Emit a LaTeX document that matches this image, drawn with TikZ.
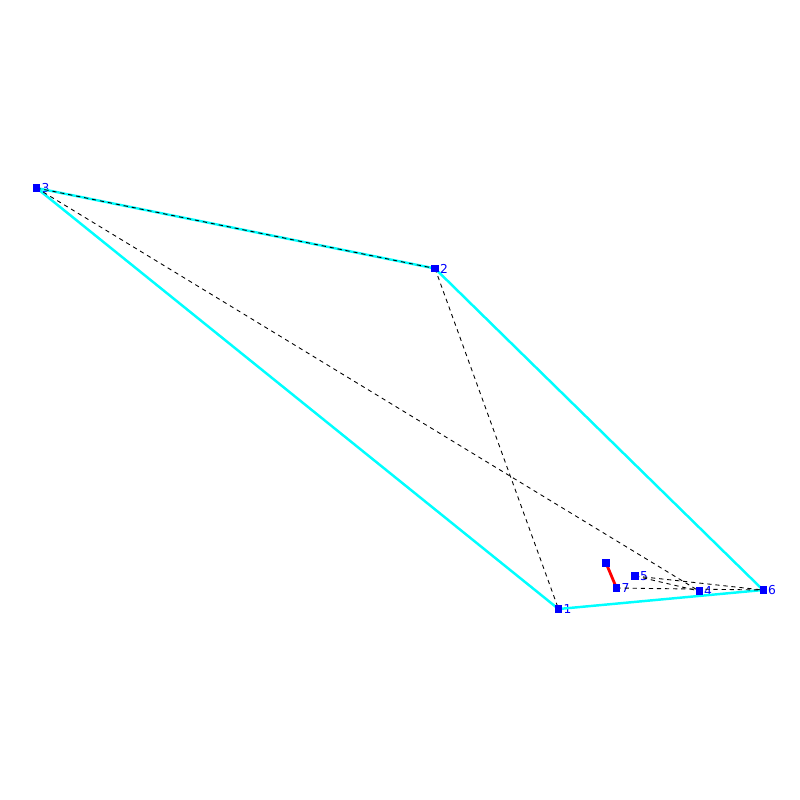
\documentclass[tikz,border=0pt]{standalone}
\usepackage{fontspec}
\setmainfont{DejaVu Sans}
\usepackage{tikz}
\usetikzlibrary{arrows}

\definecolor{hullcyan}{RGB}{0,255,255}
\definecolor{ptblue}{RGB}{0,0,255}

\tikzset{
  pt/.style={fill=ptblue,inner sep=0pt,minimum size=4pt},
  lbl/.style={text=ptblue,font=\fontsize{7pt}{7pt}\selectfont,inner sep=0.5pt},
  hull/.style={hullcyan,line width=1.4pt},
  diag/.style={black,line width=0.5pt,dash pattern=on 2.4pt off 2.2pt},
  cut/.style={red,line width=1.6pt}
}

\begin{document}
\begin{tikzpicture}[x=0.02cm,y=-0.02cm]

\useasboundingbox (0,0) rectangle (800,800);

\node[pt] (p1) at (558.5, 609) {};
\node[pt] (p2) at (435, 268.5) {};
\node[pt] (p3) at (36.5, 188) {};
\node[pt] (p4) at (699, 591) {};
\node[pt] (p5) at (635, 576) {};
\node[pt] (p6) at (763, 590) {};
\node[pt] (p7) at (616.5, 588) {};
\node[pt] (p8) at (606, 563) {};

\node[lbl,anchor=west] at (p1.east) {1};
\node[lbl,anchor=west] at (p2.east) {2};
\node[lbl,anchor=west] at (p3.east) {3};
\node[lbl,anchor=west] at (p4.east) {4};
\node[lbl,anchor=west] at (p5.east) {5};
\node[lbl,anchor=west] at (p6.east) {6};
\node[lbl,anchor=west] at (p7.east) {7};

% hull
\draw[hull] (p3.center) -- (p2.center) -- (p6.center) -- (p1.center) -- (p3.center);

% inner edges
\draw[diag] (p3.center) -- (p2.center);
\draw[diag] (p2.center) -- (p1.center);
\draw[diag] (p3.center) -- (p4.center);
\draw[diag] (p5.center) -- (p4.center);
\draw[diag] (p5.center) -- (p6.center);
\draw[diag] (p7.center) -- (p6.center);

\draw[cut] (p8.center) -- (p7.center);

% points again on top
\foreach \p in {p1,p2,p3,p4,p5,p6,p7,p8}
  \fill[ptblue] ([xshift=-2pt,yshift=-2pt]\p.center) rectangle ([xshift=2pt,yshift=2pt]\p.center);

\end{tikzpicture}
\end{document}
